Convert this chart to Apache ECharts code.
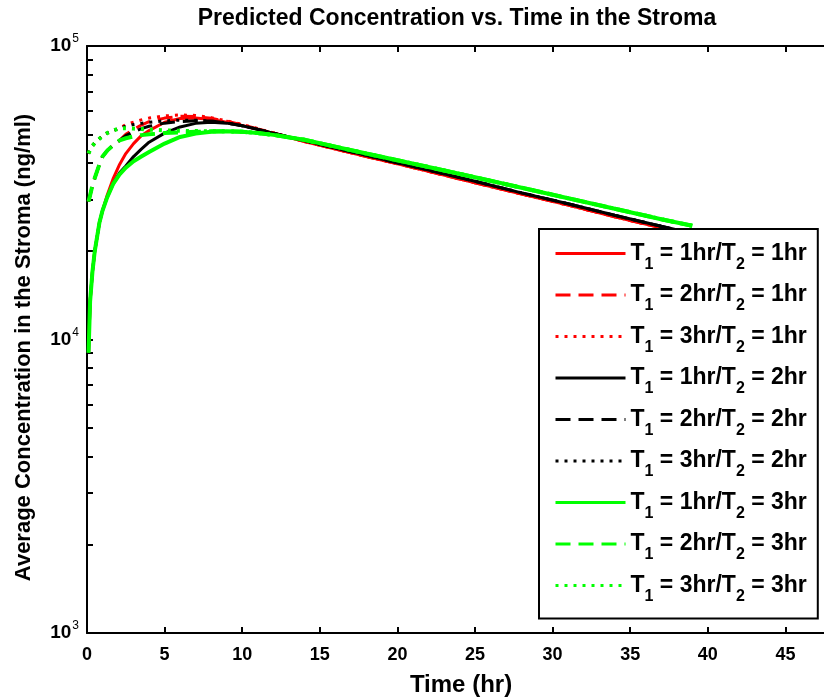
<!DOCTYPE html>
<html>
<head>
<meta charset="utf-8">
<script src="https://cdn.jsdelivr.net/npm/echarts@6/dist/echarts.min.js"></script>
<style>html,body{margin:0;padding:0;background:#fff}#c{width:824px;height:700px}</style>
</head>
<body>
<div id="c"></div>
<script>
// ---- data ----
const hoursRed   = [0.1,0.2,0.35,0.5,0.8,1.0,1.3,1.7,2.1,2.5,3,3.5,4,5,6,7,8,9,10,11,12,14,16,18,20,22,25,28,31,34,37];
const hoursBlack = [0.1,0.2,0.35,0.5,0.8,1.0,1.3,1.7,2.1,2.5,3,3.5,4,5,6,7,8,9,10,11,12,14,16,18,20,22,25,28,31,34,37,37.9];
const hoursGreen = [0.1,0.2,0.35,0.5,0.8,1.0,1.3,1.7,2.1,2.5,3,3.5,4,5,6,7,8,9,10,11,12,14,16,18,20,22,25,28,31,34,37,39];

const red11   = [9000,13500,17000,20000,25000,27500,31000,35500,39500,43000,46500,49500,51500,55000,56600,56800,56200,55000,53600,52000,50500,47300,44600,42000,39700,37400,34200,31300,28700,26200,24000];
const red21   = [29500,31000,33500,35500,39500,42000,44000,46000,47700,50000,52000,53800,55200,56800,57600,57500,56700,55400,53900,52200,50600,47300,44600,42000,39700,37400,34200,31300,28700,26200,24000];
const red31   = [43000,44300,45700,46700,48300,49300,50500,51500,52500,54000,55000,56000,56800,57800,58200,58000,57000,55600,54000,52300,50600,47300,44600,42000,39700,37400,34200,31300,28700,26200,24000];
const black12 = [9000,13500,17000,20000,25000,27500,30500,34000,37000,39000,42000,44500,47000,50500,53000,54500,55000,54600,53500,52000,50500,47600,44900,42400,40000,37800,34600,31600,29000,26500,24300,23700];
const black22 = [29500,31000,33500,35500,39500,42000,44000,46000,47700,49500,51000,52300,53300,54600,55300,55600,55500,54700,53500,52000,50500,47600,44900,42400,40000,37800,34600,31600,29000,26500,24300,23700];
const black32 = [43000,44300,45700,46700,48300,49300,50500,51500,52500,53300,54000,54500,55000,55600,55900,55900,55500,54700,53500,52000,50500,47600,44900,42400,40000,37800,34600,31600,29000,26500,24300,23700];
const green13 = [9000,13500,17000,20000,25000,27500,30500,34000,36500,38500,40500,42000,43500,46500,49000,50300,51000,51200,51000,50500,49800,47900,45400,43000,40800,38700,35700,32900,30300,27900,25700,24400];
const green23 = [29500,31000,33500,35500,39500,42000,44000,46000,47700,48500,49200,49700,50000,50500,50800,51000,51200,51200,51000,50500,49800,47900,45400,43000,40800,38700,35700,32900,30300,27900,25700,24400];
const green33 = [43000,44300,45700,46700,48300,49300,50500,51500,52500,52500,52300,52100,51900,51600,51400,51300,51200,51200,51000,50500,49800,47900,45400,43000,40800,38700,35700,32900,30300,27900,25700,24400];

const t1Labels = ['1hr','2hr','3hr','1hr','2hr','3hr','1hr','2hr','3hr'];
const t2Labels = ['1hr','1hr','1hr','2hr','2hr','2hr','3hr','3hr','3hr'];
const yMajor = [1000,10000,100000];
const yTicks = [1000,2000,3000,4000,5000,6000,7000,8000,9000,10000,20000,30000,40000,50000,60000,70000,80000,90000,100000];

// ---- chart ----
const seriesDefs = [
  [hoursRed, red11, '#ff0000', 'solid'],
  [hoursRed, red21, '#ff0000', 'dashed'],
  [hoursRed, red31, '#ff0000', 'dotted'],
  [hoursBlack, black12, '#000000', 'solid'],
  [hoursBlack, black22, '#000000', 'dashed'],
  [hoursBlack, black32, '#000000', 'dotted'],
  [hoursGreen, green13, '#00ff00', 'solid'],
  [hoursGreen, green23, '#00ff00', 'dashed'],
  [hoursGreen, green33, '#00ff00', 'dotted']
];
const dashMap = {solid: 'solid', dashed: [15, 8], dotted: [3, 6]};
const names = t1Labels.map((a, i) => 'T1 = ' + a + '/T2 = ' + t2Labels[i]);

const series = seriesDefs.map((d, i) => ({
  name: names[i],
  type: 'line',
  symbol: 'none',
  data: d[0].map((t, k) => [t, d[1][k]]),
  lineStyle: {color: d[2], width: d[2] === '#00ff00' ? 4 : 3, type: dashMap[d[3]]},
  itemStyle: {color: d[2]},
  emphasis: {disabled: true}
}));

const FA = "'Liberation Sans', Arial, sans-serif";

const chart = echarts.init(document.getElementById('c'), null, {renderer: 'canvas'});
const axisCommon = {
  type: 'value', min: 0, max: 50, interval: 5,
  axisLine: {show: true, lineStyle: {color: '#000', width: 2}},
  axisTick: {show: true, inside: true, length: 6, lineStyle: {color: '#000', width: 2}},
  splitLine: {show: false}
};
chart.setOption({
  animation: false,
  backgroundColor: '#fff',
  title: {
    text: 'Predicted Concentration vs. Time in the Stroma',
    left: 457, top: 7, textAlign: 'center', padding: 0,
    textStyle: {fontFamily: FA, fontWeight: 'bold', fontSize: 23, color: '#000'}
  },
  grid: {left: 87, right: -39, top: 46, bottom: 67, outerBoundsMode: 'none', containLabel: false},
  xAxis: [
    Object.assign({}, axisCommon, {
      position: 'bottom',
      name: 'Time (hr)', nameLocation: 'middle', nameGap: 40,
      nameTextStyle: {fontFamily: FA, fontWeight: 'bold', fontSize: 24, color: '#000', padding: [0, 28, 0, 0]},
      axisLabel: {show: true, margin: 13, color: '#000', fontFamily: FA, fontWeight: 'bold', fontSize: 18}
    }),
    Object.assign({}, axisCommon, {position: 'top', axisLabel: {show: false}})
  ],
  yAxis: {
    type: 'log', logBase: 10, min: 1000, max: 100000,
    axisLine: {show: true, lineStyle: {color: '#000', width: 2}},
    axisTick: {show: true, inside: true, length: 6, lineStyle: {color: '#000', width: 2}, customValues: yTicks},
    splitLine: {show: false},
    minorTick: {show: false},
    axisLabel: {
      show: true, margin: 8, customValues: yMajor,
      formatter: v => '{b|10}{s|' + Math.round(Math.log10(v)) + '}',
      rich: {
        b: {fontFamily: FA, fontWeight: 'bold', fontSize: 19, color: '#000'},
        s: {fontFamily: FA, fontSize: 12, color: '#000', padding: [0, 0, 14, 1]}
      }
    },
    name: 'Average Concentration in the Stroma (ng/ml)',
    nameLocation: 'middle', nameGap: 52, nameRotate: 90,
    nameTextStyle: {fontFamily: FA, fontWeight: 'bold', fontSize: 22, color: '#000', padding: [0, 16, 0, 0]}
  },
  legend: {
    orient: 'vertical', left: 539, top: 229,
    padding: [13, 11, 14, 15],
    itemWidth: 70, itemHeight: 14, itemGap: 11,
    backgroundColor: '#fff', borderColor: '#000', borderWidth: 2,
    selectedMode: false,
    itemStyle: {opacity: 0},
    lineStyle: {width: 3},
    data: names,
    formatter: name => {
      const i = names.indexOf(name);
      return '{a|T}{s|1}{a| = ' + t1Labels[i] + '/T}{s|2}{a| = ' + t2Labels[i] + '}';
    },
    textStyle: {
      rich: {
        a: {fontFamily: FA, fontWeight: 'bold', fontSize: 23, color: '#000', lineHeight: 28},
        s: {fontFamily: FA, fontWeight: 'bold', fontSize: 16, color: '#000', padding: [22, 0, 0, 0]}
      }
    }
  },
  series: series
});
</script>
</body>
</html>
